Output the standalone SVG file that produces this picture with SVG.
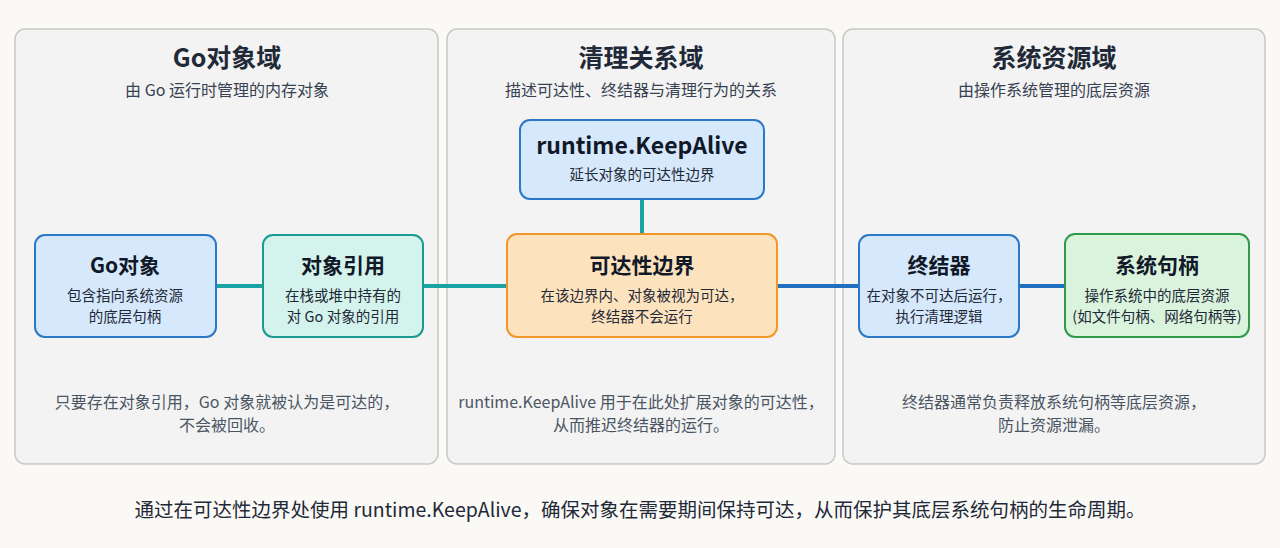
<svg xmlns="http://www.w3.org/2000/svg" width="1280" height="548" viewBox="0 0 1280 548">
<style>
text{font-family:"Noto Sans CJK SC","Noto Sans",sans-serif;text-anchor:middle}
.pt{font-size:25px;font-weight:bold;fill:#1f2937}
.ps{font-size:16px;fill:#374151}
.nt{font-size:21px;font-weight:bold;fill:#111827}
.ns{font-size:14.5px;fill:#1f2937}
.note{font-size:16px;fill:#4b5563}
.panel{fill:#f3f3f3;stroke:#c8c8c8;stroke-width:1.5}
</style>
<rect width="1280" height="548" fill="#faf9f6"/>
<g id="panel-go"><rect class="panel" x="15" y="29" width="423" height="435" rx="10"/>
<text class="pt" x="227" y="67">Go对象域</text><text class="ps" x="227" y="96">由 Go 运行时管理的内存对象</text>
<text class="note" x="227" y="408">只要存在对象引用，Go 对象就被认为是可达的，</text><text class="note" x="227" y="431">不会被回收。</text></g>
<g id="panel-clean"><rect class="panel" x="447" y="29" width="388" height="435" rx="10"/>
<text class="pt" x="641" y="67">清理关系域</text><text class="ps" x="641" y="96">描述可达性、终结器与清理行为的关系</text>
<text class="note" x="641" y="408">runtime.KeepAlive 用于在此处扩展对象的可达性，</text><text class="note" x="641" y="431">从而推迟终结器的运行。</text></g>
<g id="panel-sys"><rect class="panel" x="843" y="29" width="422" height="435" rx="10"/>
<text class="pt" x="1054" y="67">系统资源域</text><text class="ps" x="1054" y="96">由操作系统管理的底层资源</text>
<text class="note" x="1054" y="408">终结器通常负责释放系统句柄等底层资源，</text><text class="note" x="1054" y="431">防止资源泄漏。</text></g>
<g id="connectors" stroke-width="4">
<line x1="216" y1="286" x2="263" y2="286" stroke="#1aa3a3"/>
<line x1="423" y1="286" x2="507" y2="286" stroke="#1aa3a3"/>
<line x1="642" y1="199" x2="642" y2="234" stroke="#1aa3a3"/>
<line x1="777" y1="286" x2="859" y2="286" stroke="#1f6fc0"/>
<line x1="1019" y1="286" x2="1065" y2="286" stroke="#1f6fc0"/>
</g>
<g id="n-goobj"><rect x="35" y="235" width="181" height="102" rx="10" fill="#d6e8fb" stroke="#2a78c6" stroke-width="2"/>
<text class="nt" x="125" y="273">Go对象</text><text class="ns" x="125" y="301">包含指向系统资源</text><text class="ns" x="125" y="322">的底层句柄</text></g>
<g id="n-ref"><rect x="263" y="235" width="160" height="102" rx="10" fill="#d4f3ec" stroke="#1a9a90" stroke-width="2"/>
<text class="nt" x="343" y="273">对象引用</text><text class="ns" x="343" y="301">在栈或堆中持有的</text><text class="ns" x="343" y="322">对 Go 对象的引用</text></g>
<g id="n-keep"><rect x="520" y="120" width="244" height="79" rx="10" fill="#d6e8fb" stroke="#2a78c6" stroke-width="2"/>
<text class="nt" x="642" y="154" style="font-size:23px">runtime.KeepAlive</text><text class="ns" x="642" y="180">延长对象的可达性边界</text></g>
<g id="n-bound"><rect x="507" y="234" width="270" height="103" rx="10" fill="#fde3bd" stroke="#f0962a" stroke-width="2"/>
<text class="nt" x="642" y="273">可达性边界</text><text class="ns" x="642" y="301">在该边界内、对象被视为可达，</text><text class="ns" x="642" y="322">终结器不会运行</text></g>
<g id="n-fin"><rect x="859" y="235" width="160" height="102" rx="10" fill="#d6e8fb" stroke="#2a78c6" stroke-width="2"/>
<text class="nt" x="939" y="273">终结器</text><text class="ns" x="939" y="301">在对象不可达后运行，</text><text class="ns" x="939" y="322">执行清理逻辑</text></g>
<g id="n-handle"><rect x="1065" y="234" width="184" height="103" rx="10" fill="#daf3dd" stroke="#2e9a4a" stroke-width="2"/>
<text class="nt" x="1157" y="273">系统句柄</text><text class="ns" x="1157" y="301">操作系统中的底层资源</text><text class="ns" x="1157" y="322">(如文件句柄、网络句柄等)</text></g>
<text x="640" y="517" style="font-size:19.5px;fill:#1f2937">通过在可达性边界处使用 runtime.KeepAlive，确保对象在需要期间保持可达，从而保护其底层系统句柄的生命周期。</text>
</svg>
